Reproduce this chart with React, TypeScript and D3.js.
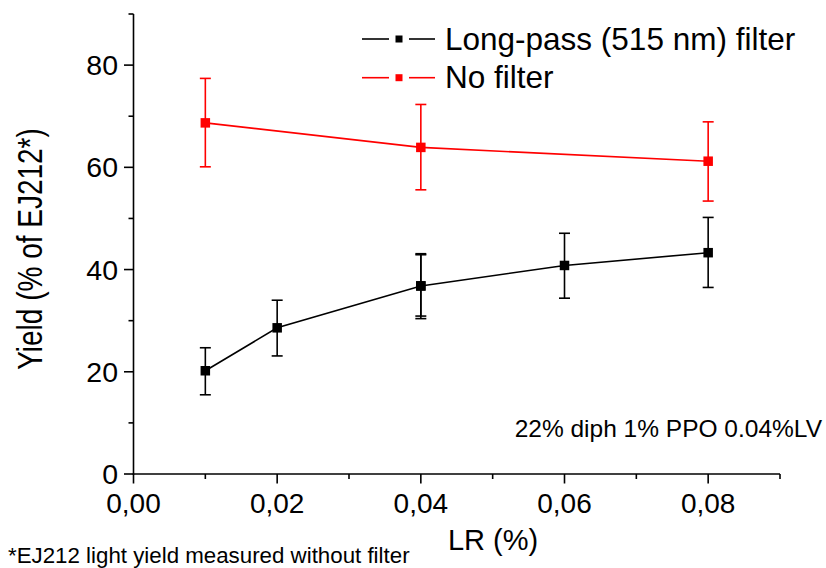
import React from "react";
import * as d3 from "d3";

const lpX = [0.01, 0.02, 0.04, 0.04, 0.06, 0.08];
const lpY = [20.2, 28.6, 36.8, 36.8, 40.8, 43.3];
const lpLow = [15.5, 23.1, 30.4, 30.9, 34.4, 36.5];
const lpHigh = [24.7, 34.0, 43.1, 42.9, 47.1, 50.2];

const nfX = [0.01, 0.04, 0.08];
const nfY = [68.7, 63.9, 61.2];
const nfLow = [60.1, 55.6, 53.4];
const nfHigh = [77.4, 72.3, 68.9];

const xTicks = [0, 0.02, 0.04, 0.06, 0.08];
const xMinor = [0.01, 0.03, 0.05, 0.07, 0.09];
const yTicks = [0, 20, 40, 60, 80];
const yMinor = [10, 30, 50, 70, 90];

const W = 826;
const H = 568;
const FONT = "'Liberation Sans', Arial, sans-serif";

export default function App() {
  const x = d3.scaleLinear().domain([0, 0.09]).range([133.5, 780]);
  const y = d3.scaleLinear().domain([0, 90]).range([474, 14]);
  const fmt = (v: number) => v.toFixed(2).replace(".", ",");

  const series = [
    { xs: lpX, ys: lpY, lo: lpLow, hi: lpHigh, color: "#000000" },
    { xs: nfX, ys: nfY, lo: nfLow, hi: nfHigh, color: "#ff0000" },
  ];

  return (
    <div style={{ position: "absolute", left: 0, top: 0 }}>
      <svg width={W} height={H} style={{ display: "block" }} fontFamily={FONT}>
        <rect width={W} height={H} fill="#fff" />
        {series.map((s, si) => {
          const path = d3
            .line<number>()
            .x((_, i) => x(s.xs[i]))
            .y((d) => y(d))(s.ys) as string;
          return (
            <g key={si}>
              <path d={path} fill="none" stroke={s.color} strokeWidth={1.6} />
              {s.ys.map((v, i) => (
                <g key={i} stroke={s.color} strokeWidth={1.6}>
                  <line x1={x(s.xs[i])} x2={x(s.xs[i])} y1={y(s.lo[i])} y2={y(s.hi[i])} />
                  <line x1={x(s.xs[i]) - 5.5} x2={x(s.xs[i]) + 5.5} y1={y(s.lo[i])} y2={y(s.lo[i])} />
                  <line x1={x(s.xs[i]) - 5.5} x2={x(s.xs[i]) + 5.5} y1={y(s.hi[i])} y2={y(s.hi[i])} />
                  <rect x={x(s.xs[i]) - 4.75} y={y(v) - 4.75} width={9.5} height={9.5} fill={s.color} stroke="none" />
                </g>
              ))}
            </g>
          );
        })}

        {/* axes */}
        <g stroke="#000" strokeWidth={1.6}>
          <line x1={133.5} x2={133.5} y1={14} y2={474.8} />
          <line x1={132.7} x2={780} y1={474} y2={474} />
          {yTicks.map((t) => (
            <line key={"ym" + t} x1={124} x2={133.5} y1={y(t)} y2={y(t)} />
          ))}
          {yMinor.map((t) => (
            <line key={"yn" + t} x1={128.5} x2={133.5} y1={y(t)} y2={y(t)} />
          ))}
          {xTicks.map((t) => (
            <line key={"xm" + t} x1={x(t)} x2={x(t)} y1={474} y2={483.5} />
          ))}
          {xMinor.map((t) => (
            <line key={"xn" + t} x1={x(t)} x2={x(t)} y1={474} y2={479} />
          ))}
        </g>
        {yTicks.map((t) => (
          <text key={"yl" + t} x={118} y={y(t) + 10} fontSize={28.5} textAnchor="end" fill="#000">
            {t}
          </text>
        ))}
        {xTicks.map((t) => (
          <text key={"xl" + t} x={x(t)} y={513} fontSize={28} textAnchor="middle" fill="#000">
            {fmt(t)}
          </text>
        ))}
        <text x={493} y={550} fontSize={29} textAnchor="middle" fill="#000">
          LR (%)
        </text>
        <text
          transform="translate(42,249) rotate(-90) scale(1,1.28)"
          fontSize={28}
          textAnchor="middle"
          fill="#000"
        >
          Yield (% of EJ212*)
        </text>

        {/* legend */}
        {[
          { label: "Long-pass (515 nm) filter", color: "#000", yy: 39, base: 49.5 },
          { label: "No filter", color: "#ff0000", yy: 77.7, base: 88 },
        ].map((l, i) => (
          <g key={i}>
            <line x1={362} x2={389} y1={l.yy} y2={l.yy} stroke={l.color} strokeWidth={1.6} />
            <line x1={409} x2={435} y1={l.yy} y2={l.yy} stroke={l.color} strokeWidth={1.6} />
            <rect x={399 - 3.5} y={l.yy - 3.5} width={7} height={7} fill={l.color} />
            <text x={445} y={l.base} fontSize={31.5} fill="#000">
              {l.label}
            </text>
          </g>
        ))}

        <text x={822} y={436.5} fontSize={24.5} textAnchor="end" fill="#000">
          22% diph 1% PPO 0.04%LV
        </text>
        <text x={8} y={563} fontSize={22.3} fill="#000">
          *EJ212 light yield measured without filter
        </text>
      </svg>
    </div>
  );
}
